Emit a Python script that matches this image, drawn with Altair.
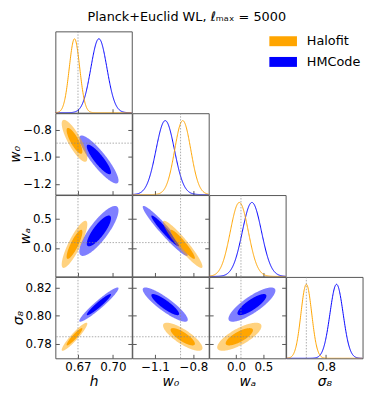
import numpy as np
import pandas as pd
import altair as alt

# ---------------- data ----------------
param_titles = ["h", "w₀", "wₐ", "σ₈"]
range_lo = [0.6505, -1.278, -0.49, 0.7696]
range_hi = [0.7163, -0.68, 0.905, 0.8278]
fiducial = [0.67, -0.9, 0.09, 0.785]
x_ticks = [[0.67, 0.70], [-1.1, -0.8], [0.0, 0.5], [0.8]]
y_ticks = [[], [-1.2, -1.0, -0.8], [0.0, 0.5], [0.78, 0.80, 0.82]]
x_formats = [".2f", ".1f", ".1f", ".1f"]
y_formats = [".2f", ".1f", ".1f", ".2f"]

models = ["Halofit", "HMCode"]
model_colors = ["#FFA500", "#0000FF"]
halofit_mean = [0.667, -0.883, 0.06, 0.785]
halofit_sigma = [0.0045, 0.063, 0.165, 0.0041]
hmcode_mean = [0.688, -1.02, 0.29, 0.808]
hmcode_sigma = [0.0069, 0.072, 0.175, 0.0050]
pair_row = [1, 2, 3, 2, 3, 3]
pair_col = [0, 0, 0, 1, 1, 2]
halofit_corr = [-0.82, 0.85, 0.93, -0.94, -0.80, 0.75]
hmcode_corr = [-0.88, 0.82, 0.95, -0.96, -0.88, 0.82]
contour_chi2 = [5.991, 2.279]  # 95% then 68%
contour_opacity = [0.5, 1.0]

title_text = "Planck+Euclid WL, ℓₘₐₓ = 5000"

# ---------------- styling ----------------
W, H = 77.5, 82.5
FONT = "DejaVu Sans"
FRAME = "#555555"

model_sets = [
    (hmcode_mean, hmcode_sigma, hmcode_corr, model_colors[1]),
    (halofit_mean, halofit_sigma, halofit_corr, model_colors[0]),
]


def corr_of(corrs, r, c):
    for k in range(len(pair_row)):
        if pair_row[k] == r and pair_col[k] == c:
            return corrs[k]
    return 0.0


def scale_of(k):
    return alt.Scale(domain=[range_lo[k], range_hi[k]], nice=False, zero=False)


COMMON = dict(
    ticks=True, tickSize=4, offset=-4, domain=False, grid=False,
    tickColor=FRAME, tickWidth=1, labelFlush=False, labelOverlap=False,
    labelFont=FONT, labelFontSize=12, labelColor="black",
    titleFont=FONT, titleFontSize=14, titleFontStyle="italic",
    titleFontWeight="normal", titleColor="black",
)


def x_axis(r, c):
    return alt.Axis(
        values=x_ticks[c], format=x_formats[c], labels=(r == 3),
        title=(param_titles[c] if r == 3 else None),
        labelPadding=3, titlePadding=3, **COMMON,
    )


def y_axis(r, c):
    return alt.Axis(
        values=y_ticks[r], format=y_formats[r], labels=(c == 0),
        title=(param_titles[r] if c == 0 else None),
        labelPadding=4, titlePadding=0, **COMMON,
    )


def y_axis_right(r):
    return alt.Axis(
        orient="right", values=y_ticks[r], labels=False, title=None, **COMMON,
    )


def fid_x(r, c):
    df = pd.DataFrame({"x": [fiducial[c]]})
    return alt.Chart(df).mark_rule(color="#888888", strokeWidth=0.7, strokeDash=[1.5, 1.5]).encode(
        x=alt.X("x:Q", scale=scale_of(c), axis=x_axis(r, c))
    )


def fid_y(r):
    df = pd.DataFrame({"y": [fiducial[r]]})
    return alt.Chart(df).mark_rule(color="#888888", strokeWidth=0.7, strokeDash=[1.5, 1.5]).encode(
        y=alt.Y("y:Q", scale=scale_of(r), axis=y_axis_right(r))
    )


def diag_panel(k):
    xs = np.linspace(range_lo[k], range_hi[k], 300)
    layers = []
    for mean, sigma, _, col in model_sets:
        df = pd.DataFrame({"x": xs, "y": np.exp(-0.5 * ((xs - mean[k]) / sigma[k]) ** 2)})
        layers.append(
            alt.Chart(df).mark_line(color=col, strokeWidth=1, clip=True).encode(
                x=alt.X("x:Q", scale=scale_of(k), axis=x_axis(k, k)),
                y=alt.Y("y:Q", scale=alt.Scale(domain=[0, 1.1], nice=False, zero=False), axis=None),
            )
        )
    layers.append(fid_x(k, k))
    return alt.layer(*layers).properties(width=W, height=H)


def ellipse_df(mx, my, sx, sy, rho, chi2):
    rad = np.sqrt(chi2)
    t = np.linspace(0, np.pi, 160)
    u = -rad * np.cos(t)
    s = np.sqrt(1 - rho ** 2) * rad * np.sin(t)
    return pd.DataFrame({
        "x": mx + sx * u,
        "y": my + sy * (rho * u + s),
        "y2": my + sy * (rho * u - s),
    })


def pair_panel(r, c):
    layers = []
    first = True
    for mean, sigma, corrs, col in model_sets:
        rho = corr_of(corrs, r, c)
        for chi2, op in zip(contour_chi2, contour_opacity):
            df = ellipse_df(mean[c], mean[r], sigma[c], sigma[r], rho, chi2)
            layers.append(
                alt.Chart(df).mark_area(color=col, opacity=op, clip=True).encode(
                    x=alt.X("x:Q", scale=scale_of(c), axis=x_axis(r, c)),
                    y=alt.Y("y:Q", scale=scale_of(r), axis=(y_axis(r, c) if first else None)),
                    y2="y2:Q",
                )
            )
            first = False
    layers.append(fid_x(r, c))
    layers.append(fid_y(r))
    return alt.layer(*layers).resolve_axis(y="independent").properties(width=W, height=H)


def empty_panel(with_legend=False):
    df = pd.DataFrame({"model": models, "x": [0, 1], "y": [0, 1]})
    enc = dict(x=alt.X("x:Q", axis=None), y=alt.Y("y:Q", axis=None))
    if with_legend:
        enc["color"] = alt.Color(
            "model:N",
            scale=alt.Scale(domain=models, range=model_colors),
            legend=alt.Legend(
                orient="none", legendX=217, legendY=-4, title=None,
                symbolType="M-1,-0.36H1V0.36H-1Z", symbolSize=784,
                symbolOpacity=1, symbolStrokeWidth=0,
                labelFont=FONT, labelFontSize=13, labelColor="black",
                labelOffset=10, rowPadding=0,
            ),
        )
    return alt.Chart(df).mark_square(opacity=0).encode(**enc).properties(
        width=W, height=H, view=alt.ViewBackground(strokeOpacity=0)
    )


cells = []
for r in range(4):
    for c in range(4):
        if c < r:
            cells.append(pair_panel(r, c))
        elif c == r:
            cells.append(diag_panel(r))
        else:
            cells.append(empty_panel(with_legend=(r == 0 and c == 1)))

chart = alt.concat(*cells, columns=4, spacing=0, bounds="flush").properties(
    title=alt.TitleParams(
        text=title_text, font=FONT, fontSize=13, fontWeight="normal",
        anchor="middle", frame="bounds", offset=4, color="black",
    ),
    padding=0,
).configure_view(stroke=FRAME, strokeWidth=1)

chart.save("out.html", embed_options={"renderer": "svg", "actions": False})
